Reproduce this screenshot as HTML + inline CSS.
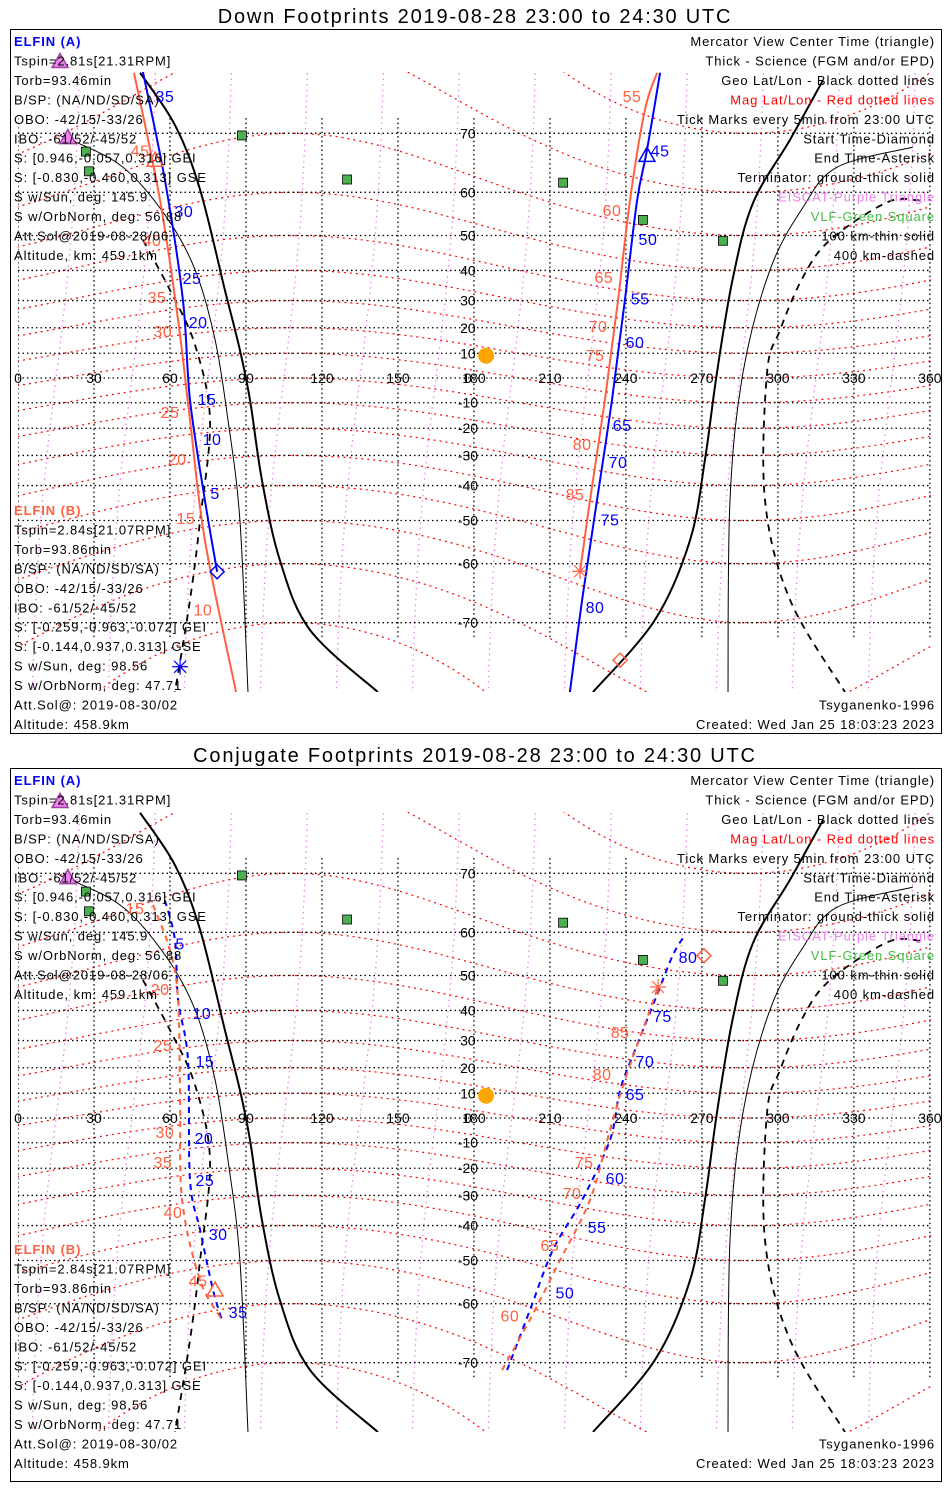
<!DOCTYPE html>
<html><head><meta charset="utf-8"><style>
body{margin:0;background:#fff;}
svg{display:block;font-family:"Liberation Sans",sans-serif;}
</style></head><body>
<svg id="chart" width="950" height="1500" viewBox="0 0 950 1500" xmlns="http://www.w3.org/2000/svg">
<defs>
<clipPath id="clip0"><rect x="18" y="72" width="913" height="620"/></clipPath>
<clipPath id="clip1"><rect x="18" y="812" width="913" height="620"/></clipPath>
</defs>
</svg>
<script>
// ---- data (lon, lat in degrees) ----
const latTicks = [70,60,50,40,30,20,10,0,-10,-20,-30,-40,-50,-60,-70];
const lonTicks = [0,30,60,90,120,150,180,210,240,270,300,330,360];
const magLats = [-80,-70,-60,-50,-40,-30,-20,-10,0,10,20,30,40,50,60,70,80];
const magLons = [15,45,75,105,135,165,195,225,255,285,315,345];
// terminator (same for both panels)
const termThickL_lon=[48.2,62.0,71.9,81.7,87.6,91.6,96.3,103.4,115.3,142.1];
const termThickL_lat=[76.9,71.1,60.5,33.6,11.3,-8.9,-38.2,-59.3,-71.0,-77.7];
const termThickR_lon=[317.8,304.8,290.2,282.3,275.9,271.2,265.3,251.5,227.0];
const termThickR_lat=[76.2,69.1,57.8,37.9,2.0,-31.6,-54.9,-69.6,-77.7];
const termThinL_lon=[16.6,40.3,58.0,69.9,77.8,82.9,87.6,90.8];
const termThinL_lat=[69.7,65.1,55.1,40.2,15.3,-16.9,-49.9,-77.7];
const termThinR_lon=[353.3,323.3,309.9,296.9,286.2,281.1,280.3];
const termThinR_lat=[68.0,64.7,56.8,40.2,2.0,-44.4,-77.7];
const termDashR_lon=[356.1,343.1,320.6,309.9,300.8,295.7,294.9,304.8,326.5];
const termDashR_lat=[58.3,57.9,48.8,37.9,19.0,2.0,-44.4,-66.6,-77.7];
const termDashL_lon=[49.3,60.0,69.9,75.8,71.9,67.9,62.0];
const termDashL_lat=[48.8,33.6,13.2,-16.9,-49.9,-66.6,-77.7];
// stations
const vlf_lon=[88.4,26.8,28.0,129.9,215.2,246.7,278.3];
const vlf_lat=[69.7,67.3,64.0,62.5,61.9,53.9,48.6];
const eiscat_lon=[16.6,19.7];
const eiscat_lat=[77.9,69.4];
const sun_lon=184.8, sun_lat=9.0;
// DOWN footprints
const dA1_lon=[49.3,58.0,65.1,67.9,73.8,78.6], dA1_lat=[77.0,62.4,30.2,-8.9,-44.4,-61.6];
const dA1tick_lon=[58.0,65.5,68.7,71.1,74.6,76.6,77.8], dA1tick_lat=[74.6,56.0,37.6,22.2,-8.5,-24.1,-42.3];
const dA1tick_txt=["35","30","25","20","15","10","5"];
const dA2_lon=[217.9,222.7,228.6,234.5,239.6,244.4,248.3,253.5], dA2_lat=[-77.7,-66.6,-44.4,-8.9,30.2,58.3,67.5,76.9];
const dA2tick_lon=[253.5,248.7,245.6,243.6,238.5,236.9,233.7,227.8], dA2tick_lat=[67.5,49.1,30.8,14.5,-18.7,-32.3,-49.7,-67.7];
const dA2tick_txt=["45","50","55","60","65","70","75","80"];
const dB1_lon=[45.8,56.1,63.2,67.9,73.8,86.1], dB1_lat=[76.9,58.3,22.9,-16.9,-54.9,-77.7];
const dB1tick_lon=[48.2,52.9,54.9,57.2,60.0,62.8,66.3,73.0], dB1tick_lat=[67.5,48.8,31.2,18.7,-13.7,-31.2,-49.4,-68.1];
const dB1tick_txt=["45","40","35","30","25","20","15","10"];
const dB2_lon=[221.9,225.8,231.7,236.9,241.6,247.5,252.3], dB2_lat=[-61.5,-44.4,-8.9,30.2,58.3,73.0,76.9];
const dB2tick_lon=[242.4,234.5,231.3,229.0,227.8,222.7,219.9], dB2tick_lat=[74.6,56.2,37.9,20.7,9.3,-25.9,-42.6];
const dB2tick_txt=["55","60","65","70","75","80","85"];
// CONJUGATE footprints
const cA1_lon=[58.0,62.0,63.2,67.1,67.9,71.9,77.0,80.5], cA1_lat=[65.9,58.3,43.2,22.9,-24.4,-41.4,-57.1,-63.1];
const cA1tick_lon=[64.0,72.6,73.8,73.4,73.8,79.0,86.9], cA1tick_lat=[57.6,39.2,22.5,-8.1,-24.4,-42.6,-61.6];
const cA1tick_txt=["5","10","15","20","25","30","35"];
const cA2_lon=[193.1,202.1,211.2,222.7,233.7,237.7,243.6,251.5,258.6,263.3], cA2_lat=[-71.0,-61.3,-47.1,-31.6,-8.9,11.3,26.6,43.2,55.1,59.4];
const cA2tick_lon=[264.5,254.4,247.5,243.6,235.7,228.6,215.9], cA2tick_lat=[54.6,38.2,22.5,9.7,-23.7,-40.5,-57.6];
const cA2tick_txt=["80","75","70","65","60","55","50"];
const cB1_lon=[53.3,60.0,63.2,64.0,64.8,71.9,80.5], cB1_lat=[65.1,56.2,43.2,7.3,-31.6,-54.9,-63.1];
const cB1tick_lon=[46.2,56.1,57.2,58.0,57.2,61.2,71.1], cB1tick_lat=[64.6,46.3,28.4,-5.7,-17.6,-35.7,-54.9];
const cB1tick_txt=["15","20","25","30","35","40","45"];
const cB2_lon=[191.1,202.1,214.0,225.8,233.7,239.6,249.5,252.7], cB2_lat=[-71.0,-63.1,-49.9,-31.6,-4.9,15.3,40.2,46.9];
const cB2tick_lon=[237.7,230.6,223.5,218.7,210.0,194.2], cB2tick_lat=[33.0,17.6,-17.6,-29.1,-45.8,-62.3];
const cB2tick_txt=["85","80","75","70","65","60"];

const infoA=["Tspin=2.81s[21.31RPM]","Torb=93.46min","B/SP: (NA/ND/SD/SA)","OBO: -42/15/-33/26","IBO: -61/52/-45/52","S: [0.946,-0.057,0.316] GEI","S: [-0.830,-0.460,0.313] GSE","S w/Sun, deg: 145.9","S w/OrbNorm, deg: 56.88","Att.Sol@2019-08-28/06","Altitude, km: 459.1km"];
const infoB=["Tspin=2.84s[21.07RPM]","Torb=93.86min","B/SP: (NA/ND/SD/SA)","OBO: -42/15/-33/26","IBO: -61/52/-45/52","S: [-0.259,-0.963,-0.072] GEI","S: [-0.144,0.937,0.313] GSE","S w/Sun, deg: 98.56","S w/OrbNorm, deg: 47.71","Att.Sol@: 2019-08-30/02","Altitude: 458.9km"];
const legend=[["Mercator View Center Time (triangle)","#000"],["Thick - Science (FGM and/or EPD)","#000"],["Geo Lat/Lon - Black dotted lines","#000"],["Mag Lat/Lon - Red dotted lines","#ff0000"],["Tick Marks every 5min from 23:00 UTC","#000"],["Start Time-Diamond","#000"],["End Time-Asterisk","#000"],["Terminator: ground-thick solid","#000"],["EISCAT-Purple Triangle","#ee82ee"],["VLF-Green Square","#44bb44"],["100 km-thin solid","#000"],["400 km-dashed","#000"]];

const NS="http://www.w3.org/2000/svg";
const svg=document.getElementById('chart');
function mk(tag,attrs,parent){const e=document.createElementNS(NS,tag);for(const k in attrs)e.setAttribute(k,attrs[k]);(parent||svg).appendChild(e);return e;}
function X(lon){return 18+lon*2.533;}
function Y(lat,off){const r=lat*Math.PI/180;return 378+off-141*Math.log(Math.tan(Math.PI/4+r/2));}
function smooth(lons,lats,off){
  const p=lons.map((l,i)=>[X(l),Y(lats[i],off)]);
  let d='M'+p[0][0].toFixed(1)+','+p[0][1].toFixed(1);
  for(let i=0;i<p.length-1;i++){
    const p0=p[i-1]||p[i],p1=p[i],p2=p[i+1],p3=p[i+2]||p2;
    const c1=[p1[0]+(p2[0]-p0[0])/6,p1[1]+(p2[1]-p0[1])/6];
    const c2=[p2[0]-(p3[0]-p1[0])/6,p2[1]-(p3[1]-p1[1])/6];
    d+=`C${c1[0].toFixed(1)},${c1[1].toFixed(1)} ${c2[0].toFixed(1)},${c2[1].toFixed(1)} ${p2[0].toFixed(1)},${p2[1].toFixed(1)}`;
  }
  return d;
}
function line(g,lons,lats,off,col,w,dash,name){
  const p=mk('path',{d:smooth(lons,lats,off),fill:'none',stroke:col,'stroke-width':w},g);
  if(dash)p.setAttribute('stroke-dasharray',dash);
  
  
}
function txt(g,x,y,s,col,size,anchor,name){
  const t=mk('text',{x:x,y:y,fill:col,'font-size':size,'text-anchor':anchor||'start'},g);
  t.textContent=s;
  
  
  return t;
}
function ticks(g,lons,lats,labels,off,col,name){
  labels.forEach((s,i)=>{txt(g,X(lons[i]),Y(lats[i],off)+6,s,col,16,'middle',name).setAttribute('letter-spacing','0.5');});
}
function diamond(g,lon,lat,off,col,name){
  const x=X(lon),y=Y(lat,off);
  const d=mk('polygon',{points:`${x},${y-7} ${x+7},${y} ${x},${y+7} ${x-7},${y}`,fill:'none',stroke:col,'stroke-width':1.5},g);
  
  
}
function asterisk(g,lon,lat,off,col,name){
  const x=X(lon),y=Y(lat,off);
  const a=mk('path',{d:`M${x-8},${y}H${x+8}M${x},${y-8}V${y+8}M${x-6},${y-6}L${x+6},${y+6}M${x-6},${y+6}L${x+6},${y-6}`,stroke:col,'stroke-width':1.2},g);
  
  
}
function tri(g,lon,lat,off,col,fill,name){
  const x=X(lon),y=Y(lat,off);
  const t=mk('polygon',{points:`${x},${y-8} ${x+8},${y+6} ${x-8},${y+6}`,fill:fill,stroke:col,'stroke-width':1.5},g);
  
  
}

function panel(off,boxTop,boxH,title,conj,clipId){
  const g=mk('g',{});
  
  
  const tt=txt(g,475,boxTop-6,title,'#000',20,'middle','panel-title');
  tt.setAttribute('letter-spacing','1.8');
  const r=mk('rect',{x:10.5,y:boxTop+0.5,width:931,height:boxH,fill:'#fff',stroke:'#000','stroke-width':1},g);
  
  
  const m=mk('g',{'clip-path':'url(#'+clipId+')'},g);
  
  
  // mag lon (purple)
  magLons.forEach(mm=>{
    const la=[],lo=[];for(let t=80;t>=-80;t-=5){la.push(t);lo.push(mm+0.12*t);}
    line(m,lo,la,off,'#ee82ee',1.3,'1.5,4','mag-lon-line');
  });
  // mag lat (red)
  magLats.forEach(L=>{
    const la=[],lo=[];for(let l=-5;l<=365;l+=5){const v=Math.max(-84,Math.min(84,L-10*Math.cos((l-288)*Math.PI/180)));lo.push(l);la.push(v);}
    line(m,lo,la,off,'#ff0000',1.2,'2,4','mag-lat-line');
  });
  // geo grid
  latTicks.forEach(t=>{
    const y=Y(t,off);
    const l=mk('line',{x1:18,x2:930,y1:y,y2:y,stroke:'#000','stroke-width':1.3,'stroke-dasharray':'1.5,3'},m);
    
    
    txt(m,X(180)-6,y+5,String(t),'#000',14,'middle','lat-tick-label');
  });
  lonTicks.forEach(t=>{
    const x=X(t);
    const l=mk('line',{x1:x,x2:x,y1:Y(72,off),y2:Y(-72,off),stroke:'#000','stroke-width':1.3,'stroke-dasharray':'1.5,3'},m);
    
    
    txt(g,x,Y(0,off)+5,String(t),'#000',14,'middle','lon-tick-label');
  });
  // terminator
  line(m,termThickL_lon,termThickL_lat,off,'#000',2,null,'terminator-ground-west');
  line(m,termThickR_lon,termThickR_lat,off,'#000',2,null,'terminator-ground-east');
  line(m,termThinL_lon,termThinL_lat,off,'#000',1,null,'terminator-100km-west');
  line(m,termThinR_lon,termThinR_lat,off,'#000',1,null,'terminator-100km-east');
  line(m,termDashR_lon,termDashR_lat,off,'#000',1.8,'7,6','terminator-400km-east');
  line(m,termDashL_lon,termDashL_lat,off,'#000',1.8,'7,6','terminator-400km-west');
  // stations
  vlf_lon.forEach((l,i)=>{
    const x=X(l),y=Y(vlf_lat[i],off);
    const s=mk('rect',{x:x-4.5,y:y-4.5,width:9,height:9,fill:'#4caf50',stroke:'#000','stroke-width':0.8},g);
    
    
  });
  eiscat_lon.forEach((l,i)=>tri(g,l,eiscat_lat[i],off,'#a040a0','#ee82ee','eiscat-station'));
  const sc=mk('circle',{cx:X(sun_lon),cy:Y(sun_lat,off),r:8,fill:'#ffa500'},g);
  
  
  const blue='#0000ff',orng='#ff6040';
  if(!conj){
    line(m,dA1_lon,dA1_lat,off,blue,2,null,'elfin-a-track-west');
    line(m,dA2_lon,dA2_lat,off,blue,2,null,'elfin-a-track-east');
    line(m,dB1_lon,dB1_lat,off,orng,2,null,'elfin-b-track-west');
    line(m,dB2_lon,dB2_lat,off,orng,2,null,'elfin-b-track-east');
    ticks(g,dA1tick_lon,dA1tick_lat,dA1tick_txt,off,blue,'elfin-a-tick-label');
    ticks(g,dA2tick_lon,dA2tick_lat,dA2tick_txt,off,blue,'elfin-a-tick-label');
    ticks(g,dB1tick_lon,dB1tick_lat,dB1tick_txt,off,orng,'elfin-b-tick-label');
    ticks(g,dB2tick_lon,dB2tick_lat,dB2tick_txt,off,orng,'elfin-b-tick-label');
    diamond(g,dA1_lon[5],dA1_lat[5],off,blue,'elfin-a-start-diamond');
    asterisk(g,64.0,-75.3,off,blue,'elfin-a-end-asterisk');
    tri(g,dA2_lon[6],dA2_lat[6]-0.8,off,blue,'none','elfin-a-center-triangle');
    tri(g,54.1,65.9,off,orng,'none','elfin-b-center-triangle');
    asterisk(g,dB2_lon[0],dB2_lat[0],off,orng,'elfin-b-end-asterisk');
    diamond(g,237.7,-74.6,off,orng,'elfin-b-start-diamond');
  } else {
    line(m,cA1_lon,cA1_lat,off,blue,2,'6,5','elfin-a-conj-west');
    line(m,cA2_lon,cA2_lat,off,blue,2,'6,5','elfin-a-conj-east');
    line(m,cB1_lon,cB1_lat,off,orng,2,'6,5','elfin-b-conj-west');
    line(m,cB2_lon,cB2_lat,off,orng,2,'6,5','elfin-b-conj-east');
    ticks(g,cA1tick_lon,cA1tick_lat,cA1tick_txt,off,blue,'elfin-a-tick-label');
    ticks(g,cA2tick_lon,cA2tick_lat,cA2tick_txt,off,blue,'elfin-a-tick-label');
    ticks(g,cB1tick_lon,cB1tick_lat,cB1tick_txt,off,orng,'elfin-b-tick-label');
    ticks(g,cB2tick_lon,cB2tick_lat,cB2tick_txt,off,orng,'elfin-b-tick-label');
    tri(g,77.8,-57.1,off,orng,'none','elfin-b-center-triangle');
    asterisk(g,cB2_lon[7],cB2_lat[7],off,orng,'elfin-b-end-asterisk');
    diamond(g,270.8,54.9,off,orng,'elfin-b-start-diamond');
  }
  // text blocks
  const y0=boxTop+12;
  const LS='0.9';
  const ta=txt(g,14,y0+5,'ELFIN (A)',blue,13,'start','elfin-a-title');ta.setAttribute('font-weight','bold');ta.setAttribute('letter-spacing',LS);
  infoA.forEach((s,i)=>txt(g,14,y0+5+(i+1)*19.45,s,'#000',13,'start','elfin-a-info').setAttribute('letter-spacing',LS));
  const yb=y0+469;
  const tb=txt(g,14,yb+5,'ELFIN (B)',orng,13,'start','elfin-b-title');tb.setAttribute('font-weight','bold');tb.setAttribute('letter-spacing',LS);
  infoB.forEach((s,i)=>txt(g,14,yb+5+(i+1)*19.45,s,'#000',13,'start','elfin-b-info').setAttribute('letter-spacing',LS));
  legend.forEach((e,i)=>txt(g,935,y0+5+i*19.45,e[0],e[1],13,'end','legend-entry').setAttribute('letter-spacing',LS));
  txt(g,935,yb+5+10*19.45,'Tsyganenko-1996','#000',13,'end','model-label').setAttribute('letter-spacing',LS);
  txt(g,935,yb+5+11*19.45,'Created: Wed Jan 25 18:03:23 2023','#000',13,'end','created-label').setAttribute('letter-spacing',LS);
}
panel(0,29,704,'Down Footprints 2019-08-28 23:00 to 24:30 UTC',false,'clip0');
panel(740,768,713,'Conjugate Footprints 2019-08-28 23:00 to 24:30 UTC',true,'clip1');
</script>
</body></html>
